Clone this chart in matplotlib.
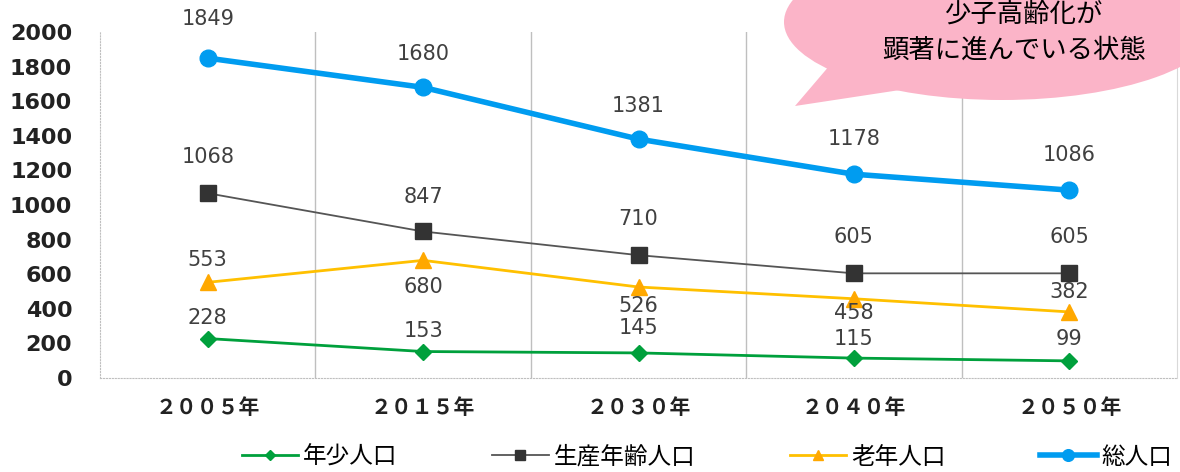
#!/usr/bin/env python

import matplotlib.pyplot as plt
from matplotlib.patches import Ellipse, Polygon

plt.rcParams['font.family'] = ['Noto Sans CJK JP', 'DejaVu Sans']

# Data
years = ['２００５年', '２０１５年', '２０３０年', '２０４０年', '２０５０年']
youth = [228, 153, 145, 115, 99]
working = [1068, 847, 710, 605, 605]
elderly = [553, 680, 526, 458, 382]
total = [1849, 1680, 1381, 1178, 1086]

series_names = ['年少人口', '生産年齢人口', '老年人口', '総人口']

# label offsets in points (above/below the marker)
youth_off = [15, 15, 18, 14, 16]
working_off = [26, 25, 26, 26, 26]
elderly_off = [16, -19, -14, -10, 14]
total_off = [28, 24, 24, 25, 25]

fig = plt.figure(figsize=(11.8, 4.72), dpi=100)
ax = fig.add_axes([100 / 1180, 1 - 378 / 472, 1077 / 1180, 346 / 472])

x = list(range(len(years)))
ax.plot(x, youth, color='#00A03C', lw=2, marker='D', ms=8, label=series_names[0], zorder=3)
ax.plot(x, working, color='#555555', lw=1.3, marker='s', ms=11,
        mfc='#333333', mec='#333333', label=series_names[1], zorder=3)
ax.plot(x, elderly, color='#FFC000', lw=2, marker='^', ms=11,
        mfc='#FFA800', mec='#FFA800', label=series_names[2], zorder=3)
ax.plot(x, total, color='#009CF0', lw=4, marker='o', ms=12, label=series_names[3], zorder=3)

for vals, offs in [(youth, youth_off), (working, working_off),
                   (elderly, elderly_off), (total, total_off)]:
    for i, v in enumerate(vals):
        ax.annotate(str(v), (i, v), xytext=(0, offs[i]), textcoords='offset points',
                    ha='center', va='center', fontsize=15, color='#404040',
                    family=['DejaVu Sans'], zorder=4)

ax.set_xlim(-0.5, len(years) - 0.5)
ax.set_ylim(0, 2000)
ax.set_yticks(range(0, 2001, 200))
ax.set_xticks(x)
ax.set_xticklabels(years, fontsize=15, fontweight='bold', color='#222222')
for lbl in ax.get_yticklabels():
    lbl.set_fontsize(16)
    lbl.set_fontweight('bold')
    lbl.set_color('#222222')
    lbl.set_family(['DejaVu Sans'])
ax.tick_params(length=0, pad=20, axis='y')
ax.tick_params(length=0, pad=14, axis='x')

# category separators
for b in [0.5, 1.5, 2.5, 3.5]:
    ax.axvline(b, color='#BFBFBF', lw=1, zorder=1)
for side in ['left', 'bottom']:
    ax.spines[side].set_color('#BFBFBF')
    ax.spines[side].set_linestyle(':')
ax.spines['top'].set_visible(False)
ax.spines['right'].set_color('#D9D9D9')

leg = fig.legend(loc='center', bbox_to_anchor=(707 / 1180, 1 - 457 / 472), ncol=4,
                 frameon=False, fontsize=17, handlelength=2.4, columnspacing=4.0,
                 handletextpad=0.2, markerscale=0.7, borderaxespad=0, borderpad=0)

# pink callout
pink = '#FBB4C8'
fig.patches.append(Ellipse((1002 / 1180, 1 - 22 / 472), 436 / 1180, 156 / 472,
                           transform=fig.transFigure, fc=pink, ec='none', zorder=5))
fig.patches.append(Polygon([(830 / 1180, 1 - 65 / 472), (795 / 1180, 1 - 106 / 472),
                            (900 / 1180, 1 - 90 / 472)], closed=True,
                           transform=fig.transFigure, fc=pink, ec='none', zorder=5))
fig.text(1023 / 1180, 1 - 14 / 472, '少子高齢化が', ha='center', va='center',
         fontsize=19, zorder=6)
fig.text(1014 / 1180, 1 - 50 / 472, '顕著に進んでいる状態', ha='center', va='center',
         fontsize=19, zorder=6)

plt.savefig('out.png', dpi=100)
